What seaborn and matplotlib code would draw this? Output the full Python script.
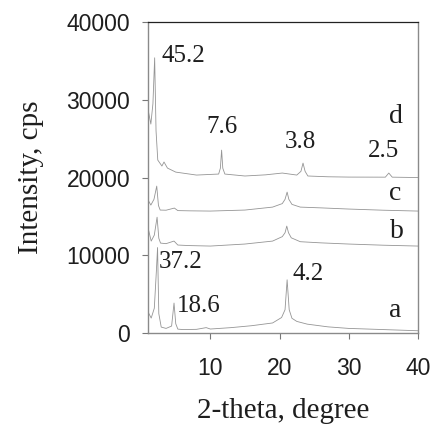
import numpy as np
import pandas as pd
import matplotlib
matplotlib.use("Agg")
import matplotlib.pyplot as plt
import seaborn as sns

# 2-theta / intensity points (cps, already offset)
theta_a = [1.0, 1.45, 1.9, 2.2, 2.37, 2.55, 2.9, 3.6, 4.4, 4.75, 5.0, 5.3, 6.0, 8.0, 9.4, 10.0,
           13.0, 16.0, 19.0, 20.3, 20.8, 21.1, 21.4, 21.8, 22.5, 24.0, 27.0, 30.0, 35.0, 40.0]
int_a = [2700, 1930, 3200, 8000, 11000, 2500, 770, 600, 900, 3860, 1200, 510, 450, 480, 700, 520,
         700, 950, 1300, 2000, 3000, 6850, 3000, 1900, 1500, 1150, 800, 600, 450, 300]

theta_b = [1.0, 1.45, 1.9, 2.3, 2.55, 2.8, 3.6, 4.75, 5.3, 7.0, 10.0, 15.0, 19.0, 20.4, 20.8, 21.05,
           21.3, 21.7, 23.0, 26.0, 30.0, 35.0, 40.0]
int_b = [13500, 11830, 12600, 14900, 12200, 11570, 11500, 11830, 11320, 11250, 11190, 11450, 11830,
         12400, 12900, 13760, 12900, 12250, 11750, 11600, 11450, 11300, 11190]

theta_c = [1.0, 1.4, 1.85, 2.25, 2.5, 2.75, 3.6, 4.8, 5.3, 7.0, 10.0, 15.0, 19.0, 20.4, 20.8, 21.1,
           21.35, 21.8, 23.0, 26.0, 30.0, 35.0, 40.0]
int_c = [17100, 16460, 17200, 18900, 16400, 15820, 15800, 16075, 15750, 15720, 15690, 15820, 16200,
         16650, 17200, 18130, 17200, 16550, 16200, 16100, 15950, 15800, 15690]

theta_d = [1.0, 1.4, 1.7, 1.95, 2.15, 2.4, 3.0, 3.3, 3.8, 5.0, 8.0, 11.2, 11.45, 11.63, 11.8, 12.1,
           15.0, 18.0, 20.4, 22.5, 23.1, 23.4, 23.7, 24.1, 27.0, 30.0, 35.3, 35.8, 36.3, 40.0]
int_d = [28700, 26880, 29500, 35400, 26000, 22250, 21480, 22000, 21220, 20700, 20320, 20450, 21200,
         23530, 21200, 20450, 20200, 20350, 20580, 20320, 20800, 21860, 20800, 20200, 20100, 20060,
         20050, 20580, 20050, 20000]

# d-spacing labels and sample letters
peak_text = ["45.2", "7.6", "3.8", "2.5", "37.2", "18.6", "4.2"]
peak_x = [3.0, 9.4, 20.7, 32.75, 2.6, 5.2, 21.9]
peak_y = [34850, 25720, 23790, 22630, 8360, 2700, 6820]
sample_text = ["a", "b", "c", "d"]
sample_y = [2060, 12220, 17100, 27000]

sns.set_style("ticks")

fig, ax = plt.subplots(figsize=(4.33, 4.32), dpi=100)
fig.subplots_adjust(left=0.342, right=0.965, bottom=0.229, top=0.949)

curves = [(theta_a, int_a), (theta_b, int_b), (theta_c, int_c), (theta_d, int_d)]
for tt, ii in curves:
    sns.lineplot(x=tt, y=ii, color="#959595", linewidth=0.6, sort=False,
                 estimator=None, ax=ax)

ax.set_xlim(1, 40)
ax.set_ylim(0, 40000)
ax.set_xticks([10, 20, 30, 40])
ax.set_yticks([0, 10000, 20000, 30000, 40000])

serif = ["Liberation Serif", "DejaVu Serif"]
for t, x, y in zip(peak_text, peak_x, peak_y):
    ax.text(x, y, t, ha="left", va="baseline", fontsize=18, family=serif, color="#1e1e1e")
for t, y in zip(sample_text, sample_y):
    ax.text(35.9, y, t, ha="left", va="baseline", fontsize=20, family=serif, color="#1e1e1e")

ax.set_xlabel("2-theta, degree", fontsize=21, family=serif, color="#1e1e1e", labelpad=13)
ax.set_ylabel("Intensity, cps", fontsize=21, family=serif, color="#1e1e1e", labelpad=16)

for lab in ax.get_xticklabels() + ax.get_yticklabels():
    lab.set_family(["Liberation Sans", "DejaVu Sans"])
ax.tick_params(axis="both", direction="out", length=4, width=0.8, colors="#777777",
               labelsize=16.5, labelcolor="#1e1e1e")
ax.tick_params(axis="x", pad=13)
ax.tick_params(axis="y", pad=9)

for side in ["left", "right", "bottom"]:
    ax.spines[side].set_color("#8a8a8a")
    ax.spines[side].set_linewidth(1.0)
ax.spines["top"].set_color("#222222")
ax.spines["top"].set_linewidth(0.9)
ax.spines["right"].set_visible(True)
ax.spines["top"].set_visible(True)

fig.savefig("out.png", dpi=100)
